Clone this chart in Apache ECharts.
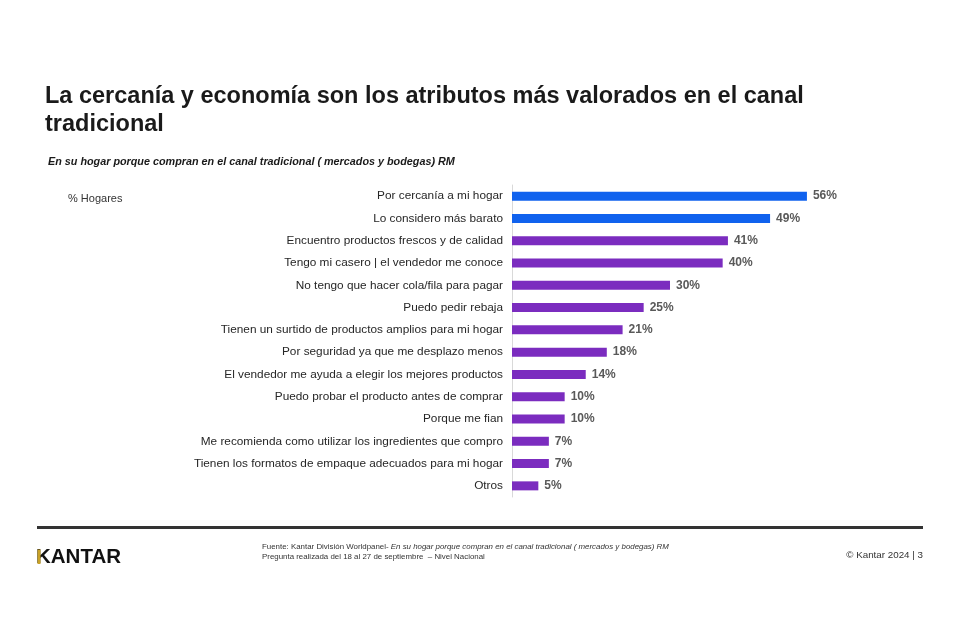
<!DOCTYPE html>
<html><head><meta charset="utf-8">
<script src="https://cdn.jsdelivr.net/npm/echarts@6/dist/echarts.min.js"></script>
<style>html,body{margin:0;padding:0;background:#fff}#c{width:960px;height:640px}</style>
</head><body><div id="c"></div>
<script>
const categories = [
  "Por cercanía a mi hogar",
  "Lo considero más barato",
  "Encuentro productos frescos y de calidad",
  "Tengo mi casero | el vendedor me conoce",
  "No tengo que hacer cola/fila para pagar",
  "Puedo pedir rebaja",
  "Tienen un surtido de productos amplios para mi hogar",
  "Por seguridad ya que me desplazo menos",
  "El vendedor me ayuda a elegir los mejores productos",
  "Puedo probar el producto antes de comprar",
  "Porque me fian",
  "Me recomienda como utilizar los ingredientes que compro",
  "Tienen los formatos de empaque adecuados para mi hogar",
  "Otros"
];
const values = [56, 49, 41, 40, 30, 25, 21, 18, 14, 10, 10, 7, 7, 5];
const highlightCount = 2;
const titleText = "La cercanía y economía son los atributos más valorados en el canal\ntradicional";
const subtitleText = "En su hogar porque compran en el canal tradicional ( mercados y bodegas) RM";
const unitText = "% Hogares";

const FONT = "'Liberation Sans', Arial, sans-serif";
const chart = echarts.init(document.getElementById('c'), null, {renderer: 'canvas'});
chart.setOption({
  backgroundColor: '#ffffff',
  animation: false,
  grid: {left: 512, top: 185, width: 316, height: 312, containLabel: false},
  xAxis: {type: 'value', min: 0, max: 60, show: false},
  yAxis: {
    type: 'category', data: categories, inverse: true,
    axisLine: {show: true, lineStyle: {color: '#d9d9d9', width: 1}},
    axisTick: {show: false},
    axisLabel: {color: '#262626', fontFamily: FONT, fontSize: 11.8, margin: 9}
  },
  series: [{
    type: 'bar', barWidth: 9,
    data: values.map((v, i) => ({value: v, itemStyle: {color: i < highlightCount ? '#1062ee' : '#7b2cbf'}})),
    label: {show: true, position: 'right', distance: 6, formatter: '{c}%', color: '#595959', fontFamily: FONT, fontSize: 12, fontWeight: 'bold'}
  }],
  graphic: [
    {type: 'text', left: 45, top: 83, style: {text: titleText, fill: '#1a1a1a', font: "bold 23.5px 'Liberation Sans', Arial, sans-serif", lineHeight: 28}},
    {type: 'text', left: 48, top: 157, style: {text: subtitleText, fill: '#1a1a1a', font: "italic bold 10.8px 'Liberation Sans', Arial, sans-serif"}},
    {type: 'text', left: 68, top: 193, style: {text: unitText, fill: '#333', font: "11px 'Liberation Sans', Arial, sans-serif"}},
    {type: 'rect', shape: {x: 37, y: 526, width: 886, height: 3}, style: {fill: '#333333'}},
    {type: 'text', left: 36, top: 547, style: {text: 'KANTAR', fill: '#111', font: "bold 20.5px 'Liberation Sans', Arial, sans-serif"}},
    {type: 'rect', shape: {x: 37.5, y: 549.5, width: 3, height: 14.5}, style: {fill: '#c9a227'}},
    {type: 'text', left: 262, top: 543, style: {rich: {a: {fill: '#333', font: "7.9px 'Liberation Sans', Arial, sans-serif"}, b: {fill: '#333', font: "italic 7.9px 'Liberation Sans', Arial, sans-serif"}}, text: '{a|Fuente: Kantar División Worldpanel- }{b|En su hogar porque compran en el canal tradicional ( mercados y bodegas) RM}'}},
    {type: 'text', left: 262, top: 553, style: {text: 'Pregunta realizada del 18 al 27 de septiembre  – Nivel Nacional', fill: '#333', font: "7.9px 'Liberation Sans', Arial, sans-serif"}},
    {type: 'text', right: 37, top: 550, style: {text: '© Kantar 2024 | 3', fill: '#333', font: "9.8px 'Liberation Sans', Arial, sans-serif"}}
  ]
});
</script></body></html>
